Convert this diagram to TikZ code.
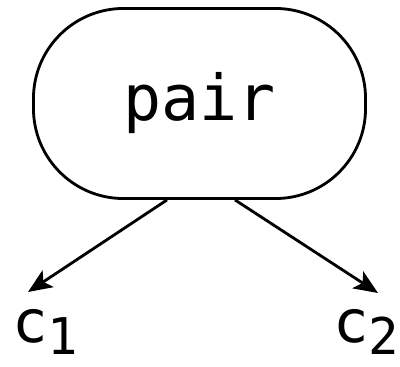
\documentclass[tikz,border=0pt]{standalone}
\usepackage{fontspec}
\setmonofont{DejaVu Sans Mono}
\usetikzlibrary{arrows.meta,positioning,calc}

\begin{document}
\begin{tikzpicture}[x=0.025cm,y=-0.025cm,
  blob/.style={draw,line width=2pt,rounded corners=2.25cm,minimum width=8.3cm,minimum height=4.75cm,font=\ttfamily\fontsize{45}{45}\selectfont},
  lbl/.style={font=\ttfamily\fontsize{42}{42}\selectfont,inner sep=0pt,anchor=base west},
  link/.style={line width=2pt,-{Stealth[length=0.6cm,width=0.5cm,inset=0.14cm]}}]
  \useasboundingbox (0,0) rectangle (400,367);
  % the pair cell
  \node[blob] (pair) at (199.5,103.5) {pair};
  % its two components
  \node[lbl] (c1) at (12,342) {c\raisebox{-0.3cm}{\fontsize{36}{36}\selectfont 1}};
  \node[lbl] (c2) at (333,342) {c\raisebox{-0.3cm}{\fontsize{36}{36}\selectfont 2}};
  \coordinate (s1) at ($(pair.south)+(-32.5,0)$);
  \coordinate (s2) at ($(pair.south)+(35.5,0)$);
  \coordinate (t1) at (28,292);
  \coordinate (t2) at (378,293);
  \draw[link] (s1) -- (t1);
  \draw[link] (s2) -- (t2);
\end{tikzpicture}
\end{document}
